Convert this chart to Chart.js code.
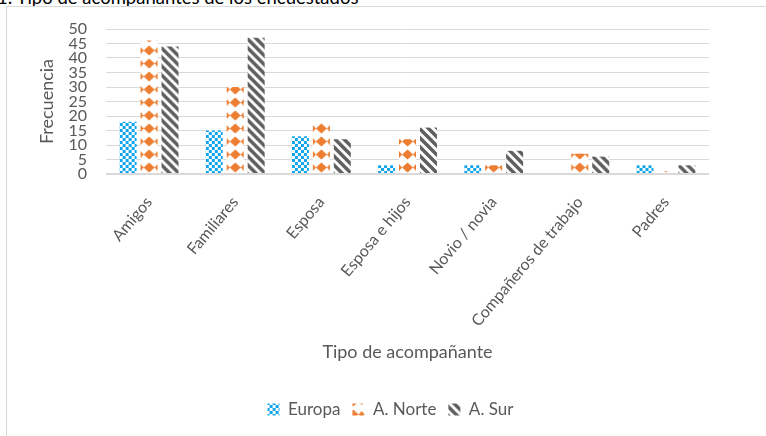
<!DOCTYPE html>
<html lang="es">
<head>
<meta charset="utf-8">
<title>Tipo de acompañantes de los encuestados</title>
<script src="https://cdn.jsdelivr.net/npm/chart.js@4.4.1/dist/chart.umd.min.js"></script>
<style>
  html, body { margin: 0; padding: 0; background: #fff; overflow: hidden; }
  body { width: 766px; height: 436px; position: relative; font-family: Lato, "Open Sans", sans-serif; }
  #caption { position: absolute; left: -3px; top: -14px; font-size: 18.5px; color: #000; white-space: nowrap; }
  #frame { position: absolute; left: 6px; top: 6px; width: 800px; height: 480px; border: 1px solid #d9d9d9; }
  #wrap { position: absolute; left: 0; top: 0; width: 766px; height: 436px; }
</style>
</head>
<body>
<div id="caption">1: Tipo de acompañantes de los encuestados</div>
<div id="frame"></div>
<div id="wrap"><canvas id="barChart" width="766" height="436"></canvas></div>
<script>
const categories = ["Amigos", "Familiares", "Esposa", "Esposa e hijos", "Novio / novia", "Compañeros de trabajo", "Padres"];
const europa = [18, 15, 13, 3, 3, 0, 3];
const norte = [46, 30, 18, 12, 3, 7, 1];
const sur = [44, 47, 12, 16, 8, 6, 3];

const textGray = "#595959";
const barPct = 0.81;
const catPct = 0.73;

// tiles for the bar fills
const tile = (w, h, draw) => {
    const c = document.createElement("canvas");
    c.width = w;
    c.height = h;
    const g = c.getContext("2d");
    g.fillStyle = "#ffffff";
    g.fillRect(0, 0, w, h);
    draw(g, w, h);
    return c;
};

const checkerTile = tile(6, 6, (g, w, h) => {
    g.fillStyle = "#0ea5ec";
    g.fillRect(0, 0, w, h);
    g.fillStyle = "#ffffff";
    g.fillRect(0, 0, 3, 3);
    g.fillRect(3, 3, 3, 3);
});

const diamondTile = tile(17, 13, (g, w, h) => {
    g.fillStyle = "#ed7d31";
    const diamond = (cx, cy, rx, ry) => {
        g.beginPath();
        g.moveTo(cx, cy - ry);
        g.lineTo(cx + rx, cy);
        g.lineTo(cx, cy + ry);
        g.lineTo(cx - rx, cy);
        g.closePath();
        g.fill();
    };
    diamond(w / 2, 6.5, 5.5, 5);
    diamond(0, 6.5, 3, 3.5);
    diamond(w, 6.5, 3, 3.5);
});

const stripeTile = tile(9, 9, (g, w, h) => {
    g.strokeStyle = "#5f5f5f";
    g.lineWidth = 3.5;
    g.beginPath();
    g.moveTo(-3, -3);
    g.lineTo(w + 3, h + 3);
    g.moveTo(-3, h - 3);
    g.lineTo(3, h + 3);
    g.moveTo(w - 3, -3);
    g.lineTo(w + 3, 3);
    g.stroke();
});

const tiles = [checkerTile, diamondTile, stripeTile];
const ctx2d = document.createElement("canvas").getContext("2d");

// each bar gets its own pattern anchored at its left edge and the zero line
const barFill = (ctx) => {
    const src = tiles[ctx.datasetIndex];
    const pattern = ctx2d.createPattern(src, "repeat");
    if (ctx.type !== "data") {
        return pattern;
    }
    const xs = ctx.chart.scales.x;
    const ys = ctx.chart.scales.y;
    const slot = (xs.width / categories.length) * catPct / 3;
    const center = xs.getPixelForValue(ctx.dataIndex) + (ctx.datasetIndex - 1) * slot;
    const left = center - slot * barPct / 2;
    const base = ys.getPixelForValue(0);
    pattern.setTransform(new DOMMatrix().translate(left, base));
    return pattern;
};

// nudge the legend row a little to the right of the canvas centre
const legendShift = {
    id: "legendShift",
    afterLayout: (chart) => {
        chart.legend.left += 18;
        chart.legend.right += 18;
    },
};

const datasets = [
    { label: "Europa", data: europa },
    { label: "A. Norte", data: norte },
    { label: "A. Sur", data: sur },
];

const barChart = new Chart(document.getElementById("barChart"), {
    type: "bar",
    data: {
        labels: categories,
        datasets: datasets.map((d) => ({
            ...d,
            backgroundColor: barFill,
            borderWidth: 0,
            barPercentage: barPct,
            categoryPercentage: catPct,
        })),
    },
    plugins: [legendShift],
    options: {
        responsive: false,
        animation: false,
        layout: {
            padding: { left: 36, right: 57, top: 29, bottom: 8 },
        },
        plugins: {
            tooltip: { enabled: false },
            legend: {
                position: "bottom",
                labels: {
                    boxWidth: 12,
                    boxHeight: 12,
                    padding: 12,
                    color: textGray,
                    font: { family: "Lato", size: 17 },
                },
            },
        },
        scales: {
            x: {
                grid: { display: false },
                border: { display: false },
                ticks: {
                    color: textGray,
                    font: { family: "Lato", size: 16 },
                    minRotation: 50,
                    maxRotation: 50,
                    autoSkip: false,
                    padding: 11,
                },
                title: {
                    display: true,
                    text: "Tipo de acompañante",
                    color: textGray,
                    font: { family: "Lato", size: 18 },
                    padding: { top: 4, bottom: 26 },
                },
                afterFit: (scale) => {
                    scale.height = 215;
                },
            },
            y: {
                min: 0,
                max: 50,
                grid: {
                    color: "#d9d9d9",
                    lineWidth: (ctx) => (ctx.tick && ctx.tick.value === 0 ? 2 : 1),
                    drawTicks: false,
                },
                border: { display: false },
                ticks: {
                    stepSize: 5,
                    autoSkip: false,
                    color: textGray,
                    font: { family: "Lato", size: 16 },
                    padding: 19,
                },
                title: {
                    display: true,
                    text: "Frecuencia",
                    color: textGray,
                    font: { family: "Lato", size: 18 },
                    padding: { top: 0, bottom: 0 },
                },
                afterFit: (scale) => {
                    scale.width = 70;
                },
            },
        },
    },
});
</script>
</body>
</html>
